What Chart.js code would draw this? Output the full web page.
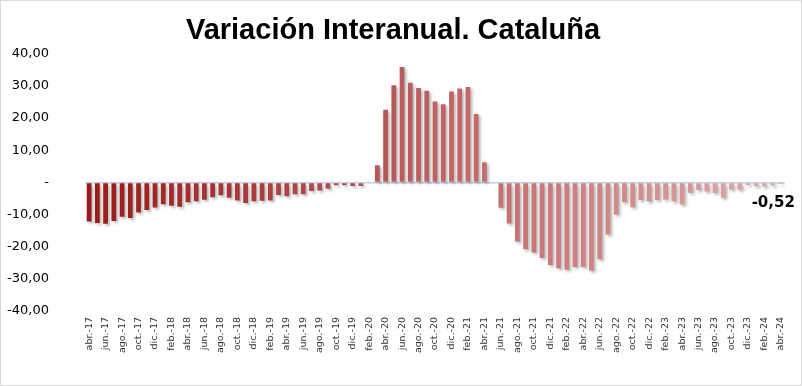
<!DOCTYPE html>
<html>
<head>
<meta charset="utf-8">
<script src="https://cdn.jsdelivr.net/npm/chart.js@4/dist/chart.umd.min.js"></script>
<style>
  html, body { margin: 0; padding: 0; background: #fff; }
  #wrap { width: 800px; height: 384px; border: 1px solid #d9d9d9; }
  canvas { display: block; }
</style>
</head>
<body>
<div id="wrap"><canvas id="chart" width="800" height="384"></canvas></div>
<script>
// Variación interanual (%), Cataluña, abr-17 .. abr-24
const categories = [
  'abr.-17', 'may.-17', 'jun.-17', 'jul.-17', 'ago.-17', 'sep.-17', 'oct.-17', 'nov.-17', 'dic.-17',
  'ene.-18', 'feb.-18', 'mar.-18', 'abr.-18', 'may.-18', 'jun.-18', 'jul.-18', 'ago.-18', 'sep.-18', 'oct.-18', 'nov.-18', 'dic.-18',
  'ene.-19', 'feb.-19', 'mar.-19', 'abr.-19', 'may.-19', 'jun.-19', 'jul.-19', 'ago.-19', 'sep.-19', 'oct.-19', 'nov.-19', 'dic.-19',
  'ene.-20', 'feb.-20', 'mar.-20', 'abr.-20', 'may.-20', 'jun.-20', 'jul.-20', 'ago.-20', 'sep.-20', 'oct.-20', 'nov.-20', 'dic.-20',
  'ene.-21', 'feb.-21', 'mar.-21', 'abr.-21', 'may.-21', 'jun.-21', 'jul.-21', 'ago.-21', 'sep.-21', 'oct.-21', 'nov.-21', 'dic.-21',
  'ene.-22', 'feb.-22', 'mar.-22', 'abr.-22', 'may.-22', 'jun.-22', 'jul.-22', 'ago.-22', 'sep.-22', 'oct.-22', 'nov.-22', 'dic.-22',
  'ene.-23', 'feb.-23', 'mar.-23', 'abr.-23', 'may.-23', 'jun.-23', 'jul.-23', 'ago.-23', 'sep.-23', 'oct.-23', 'nov.-23', 'dic.-23',
  'ene.-24', 'feb.-24', 'mar.-24', 'abr.-24'
];

const variacion = [
  -12.2, -12.6, -12.9, -12.0, -10.7, -11.1, -9.4, -8.6, -7.8,
  -6.8, -7.3, -7.6, -6.2, -5.9, -5.4, -4.6, -4.0, -4.8, -5.6, -6.4, -5.9,
  -5.7, -5.6, -3.9, -4.3, -3.7, -3.7, -2.7, -2.5, -2.0, -0.9, -0.9, -1.1,
  -1.1, 0.0, 5.3, 22.6, 30.2, 35.9, 31.0, 29.4, 28.5, 25.2, 24.3, 28.3,
  29.2, 29.7, 21.3, 6.3, 0.0, -7.9, -12.8, -18.4, -20.8, -21.8, -23.5, -25.7,
  -26.7, -27.2, -26.3, -26.3, -27.5, -23.9, -16.2, -10.0, -6.2, -7.7, -5.5, -5.9,
  -5.5, -5.3, -5.9, -6.9, -3.2, -2.4, -2.8, -3.3, -4.8, -2.2, -2.3, -0.8,
  -1.2, -1.3, -1.0, -0.52
];

const yTicks = { min: -40, max: 40, step: 10 };
const lastLabel = '-0,52';

// bars fade from dark red to pale pink along the series
const colorStart = [155, 24, 24];
const colorEnd = [226, 172, 172];
function barColor(ctx) {
  const t = ctx.dataIndex / (categories.length - 1);
  const c = colorStart.map((v, i) => Math.round(v + (colorEnd[i] - v) * t));
  return `rgb(${c[0]}, ${c[1]}, ${c[2]})`;
}

function fmt(v) {
  if (v === 0) return '-';
  return v.toFixed(2).replace('.', ',');
}

const barShadow = {
  id: 'barShadow',
  beforeDatasetsDraw(chart) {
    const ctx = chart.ctx;
    ctx.save();
    ctx.shadowColor = 'rgba(0, 0, 0, 0.28)';
    ctx.shadowBlur = 3;
    ctx.shadowOffsetX = 2;
    ctx.shadowOffsetY = 2;
  },
  afterDatasetsDraw(chart) {
    const ctx = chart.ctx;
    ctx.restore();
    // value label under the last bar
    const bars = chart.getDatasetMeta(0).data;
    const last = bars[bars.length - 1];
    ctx.save();
    ctx.font = 'bold 15px "DejaVu Sans"';
    ctx.fillStyle = '#000';
    ctx.textAlign = 'right';
    ctx.textBaseline = 'middle';
    ctx.fillText(lastLabel, last.x + 14, last.y + 19);
    ctx.restore();
  }
};

new Chart(document.getElementById('chart'), {
  type: 'bar',
  data: {
    labels: categories,
    datasets: [{
      data: variacion,
      backgroundColor: barColor,
      borderWidth: 0,
      barPercentage: 0.58,
      categoryPercentage: 1
    }]
  },
  options: {
    responsive: false,
    animation: false,
    layout: { padding: { top: 0, right: 16, bottom: 0, left: 0 } },
    plugins: {
      legend: { display: false },
      tooltip: { enabled: false },
      title: {
        display: true,
        text: 'Variación Interanual. Cataluña',
        color: '#000',
        font: { family: 'Liberation Sans', size: 29, weight: 'bold', lineHeight: 1.2 },
        padding: { top: 13, bottom: 5 }
      }
    },
    scales: {
      x: {
        offset: true,
        grid: { display: false, drawTicks: false },
        border: { display: false },
        ticks: {
          autoSkip: false,
          maxRotation: 90,
          minRotation: 90,
          padding: 6,
          color: '#333',
          font: { family: 'DejaVu Sans', size: 9.5 },
          callback: (v, i) => (i % 2 === 0 ? categories[i] : '')
        },
        afterFit: (scale) => { scale.height = 74; }
      },
      y: {
        min: yTicks.min,
        max: yTicks.max,
        border: { display: false },
        grid: {
          drawTicks: false,
          lineWidth: 1.5,
          color: (c) => (c.tick && c.tick.value === 0 ? '#bcd0e8' : 'rgba(0,0,0,0)')
        },
        ticks: {
          stepSize: yTicks.step,
          padding: 36,
          color: '#000',
          font: { family: 'DejaVu Sans', size: 13 },
          callback: (v) => fmt(v)
        },
        afterFit: (scale) => { scale.width = 84; }
      }
    }
  },
  plugins: [barShadow]
});
</script>
</body>
</html>
